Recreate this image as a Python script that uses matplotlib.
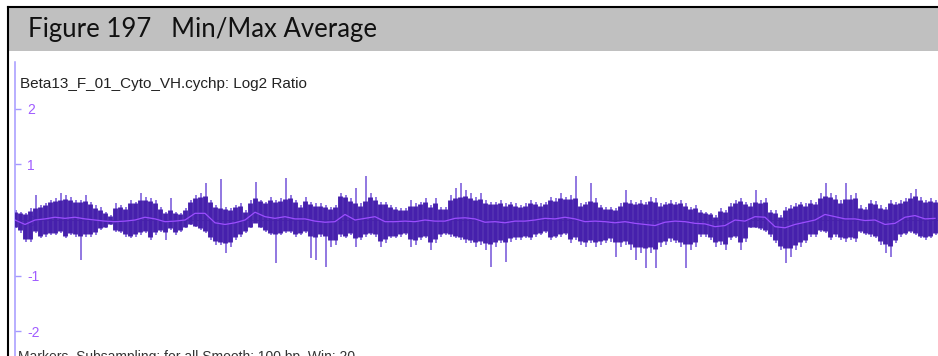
import numpy as np
import matplotlib
matplotlib.use("Agg")
import matplotlib.pyplot as plt
from matplotlib.patches import Rectangle
from matplotlib.lines import Line2D

plt.rcParams['axes.unicode_minus'] = False

# Log2 ratio summaries, one column every 5 bins (values in hundredths)
core_hi = [14, 12, 10, 16, 22, 24, 27, 32, 34, 36, 38, 36, 32, 32, 34, 28, 22, 18, 12, 7,
           22, 24, 20, 30, 30, 36, 36, 34, 30, 20, 12, 18, 12, 10, 18, 32, 40, 42, 44, 32,
           24, 22, 20, 18, 24, 26, 15, 30, 40, 34, 30, 36, 32, 34, 38, 40, 32, 24, 34, 28,
           26, 26, 24, 20, 24, 44, 42, 34, 30, 26, 34, 42, 36, 28, 28, 24, 20, 18, 18, 26,
           26, 28, 32, 24, 30, 20, 20, 36, 40, 42, 44, 40, 36, 38, 30, 28, 28, 30, 26, 28,
           26, 24, 26, 30, 28, 26, 28, 36, 34, 40, 38, 38, 40, 26, 28, 34, 32, 24, 20, 20,
           18, 26, 32, 30, 28, 30, 28, 34, 32, 26, 28, 30, 28, 30, 26, 20, 22, 15, 12, 10,
           6, 16, 15, 26, 30, 34, 28, 26, 32, 30, 32, 14, 12, 6, 18, 22, 26, 28, 26, 30,
           28, 40, 44, 42, 38, 30, 38, 38, 40, 22, 20, 30, 28, 22, 20, 30, 28, 30, 34, 40,
           44, 36, 32, 34, 32]
core_lo = [-12, -18, -34, -34, -20, -28, -26, -24, -24, -20, -28, -24, -26, -28, -26, -26, -22, -15, -12, -7,
           -18, -20, -26, -28, -26, -22, -20, -30, -22, -18, -22, -15, -22, -18, -12, -7, -10, -15, -20, -30,
           -38, -40, -42, -40, -30, -26, -20, -12, -5, -12, -18, -23, -26, -23, -20, -20, -26, -23, -20, -28,
           -30, -26, -28, -36, -36, -26, -28, -23, -32, -30, -26, -23, -26, -38, -34, -28, -28, -26, -23, -34,
           -36, -30, -28, -40, -34, -26, -23, -26, -28, -30, -35, -36, -40, -38, -42, -44, -40, -36, -40, -33,
           -30, -30, -28, -30, -26, -23, -20, -30, -28, -26, -23, -34, -30, -38, -40, -36, -40, -38, -36, -33,
           -40, -40, -38, -44, -48, -48, -50, -48, -52, -40, -38, -33, -36, -40, -44, -44, -40, -26, -26, -30,
           -40, -38, -44, -30, -28, -40, -33, -12, -12, -15, -18, -26, -36, -46, -50, -50, -45, -40, -36, -26,
           -26, -18, -20, -30, -26, -30, -33, -30, -33, -20, -23, -26, -28, -38, -44, -46, -36, -26, -23, -20,
           -23, -28, -30, -28, -23]
ext_hi = [18, 15, 12, 21, 45, 27, 30, 36, 39, 48, 45, 42, 36, 36, 45, 33, 27, 24, 15, 9,
          30, 27, 24, 36, 33, 48, 42, 39, 36, 24, 15, 39, 15, 12, 21, 36, 45, 48, 66, 36,
          27, 73, 24, 21, 27, 30, 18, 36, 69, 36, 33, 42, 36, 39, 75, 45, 36, 27, 42, 33,
          30, 30, 27, 24, 27, 48, 45, 39, 58, 30, 79, 48, 42, 33, 33, 27, 24, 21, 21, 36,
          30, 33, 39, 27, 39, 24, 24, 45, 57, 66, 54, 48, 42, 48, 36, 33, 33, 36, 30, 33,
          30, 27, 30, 36, 33, 30, 33, 42, 39, 48, 42, 45, 79, 30, 33, 67, 39, 27, 24, 24,
          21, 30, 54, 36, 33, 36, 33, 42, 39, 30, 33, 36, 33, 36, 30, 24, 27, 18, 15, 12,
          9, 21, 18, 30, 36, 39, 33, 30, 54, 36, 39, 18, 18, 9, 24, 27, 30, 33, 30, 36,
          33, 48, 67, 48, 45, 36, 67, 45, 48, 27, 24, 36, 34, 27, 24, 36, 33, 36, 39, 48,
          55, 42, 36, 39, 36]
ext_lo = [-15, -24, -39, -39, -24, -33, -30, -27, -27, -24, -33, -27, -30, -72, -30, -30, -27, -18, -15, -9,
          -21, -24, -30, -33, -30, -27, -24, -36, -27, -21, -36, -18, -27, -21, -15, -9, -12, -18, -24, -36,
          -45, -45, -60, -48, -36, -30, -24, -15, -6, -15, -21, -27, -78, -27, -24, -24, -30, -27, -24, -69,
          -72, -30, -84, -48, -45, -30, -33, -27, -48, -36, -30, -27, -30, -48, -42, -33, -33, -30, -27, -48,
          -45, -36, -33, -54, -42, -30, -27, -30, -33, -36, -42, -42, -48, -45, -54, -85, -48, -42, -75, -39,
          -36, -36, -33, -36, -30, -27, -24, -36, -33, -30, -27, -42, -36, -45, -48, -42, -48, -45, -42, -39,
          -67, -48, -45, -54, -72, -60, -87, -60, -87, -48, -45, -39, -42, -48, -87, -54, -48, -30, -30, -36,
          -48, -45, -54, -36, -33, -54, -39, -15, -15, -18, -21, -30, -42, -54, -78, -66, -54, -48, -42, -30,
          -30, -21, -24, -36, -30, -36, -39, -36, -39, -24, -27, -30, -33, -45, -60, -67, -42, -30, -27, -24,
          -27, -33, -36, -33, -27]
# Running average, one value every 10 bins (hundredths)
avg = [0, -8, 0, 2, 5, 3, 5, 2, 0, -2, -3, -2, 0, 5, 2, -3, -2, 0, 12, 12,
       -5, -8, -5, 0, 14, 6, 3, 6, 2, 2, -2, -4, -3, 10, 0, 3, 6, -3, -3, -2,
       -3, 0, -2, -2, 3, 4, 2, -4, -3, -5, -2, -2, 0, 3, 2, 5, 2, -3, -2, -3,
       -5, -3, -6, -8, -10, -4, -2, -3, -6, -7, -12, -10, 0, -2, 6, 5, -12, -14, -8, -4,
       0, 10, 6, 2, 2, -1, 0, -8, -6, 5, 8, 2, 3]

y_ticks = [-2, -1, 0, 1, 2]
track_title = "Beta13_F_01_Cyto_VH.cychp: Log2 Ratio"
figure_title = "Figure 197   Min/Max Average"
footer_text = "Markers  Subsampling: for all Smooth: 100 bp  Win: 20"

W, H = 938, 356
fig = plt.figure(figsize=(W / 100, H / 100), dpi=100)
fig.patch.set_facecolor("white")

def fx(px):
    return px / W

def fy(py):
    return 1 - py / H

# Figure caption bar and frame
fig.add_artist(Rectangle((fx(9), fy(51)), fx(W - 9), fy(8) - fy(51),
                         transform=fig.transFigure, facecolor="#c0c0c0",
                         edgecolor="none", zorder=0))
fig.add_artist(Line2D([fx(8), 1], [fy(7), fy(7)], transform=fig.transFigure,
                      color="black", lw=1.5))
fig.add_artist(Line2D([fx(8), fx(8)], [fy(7), 0], transform=fig.transFigure,
                      color="black", lw=1.5))
fig.text(fx(28), fy(29), figure_title, fontsize=18.5, family="Lato",
         color="#111111", va="center", ha="left")

# Track area
ax = fig.add_axes([fx(15), 0, 1 - fx(15), fy(62)])
ax.set_facecolor("none")
ax.set_axisbelow(True)
n = min(len(core_hi), len(core_lo), len(ext_hi), len(ext_lo))
pos = np.arange(n) * 5
ax.set_xlim(0, 923)
ax.set_ylim(-2.446, 2.842)

ch = np.array(core_hi[:n]) / 100
cl = np.array(core_lo[:n]) / 100
eh = np.array(ext_hi[:n]) / 100
el = np.array(ext_lo[:n]) / 100
av = np.array(avg) / 100
apos = np.arange(len(av)) * 10

ax.axhline(0, color="#707070", lw=0.8, zorder=1)
ax.vlines(pos + 1.2, el, eh, color="#7352d8", lw=1.1, zorder=2)
ax.vlines(pos, cl, ch, color="#4620ac", lw=3.5, zorder=3)
ax.plot(apos, av, color="#9b4dff", lw=0.9, zorder=4)

for s in ("top", "right", "bottom"):
    ax.spines[s].set_visible(False)
ax.spines["left"].set_color("#a499ff")
ax.spines["left"].set_linewidth(1.1)
ax.set_xticks([])
ax.set_yticks(y_ticks)
ax.set_yticklabels([str(t) for t in y_ticks])
ax.tick_params(axis="y", direction="in", length=4.5, width=1.0,
               color="#a499ff", labelcolor="#a05cff", labelsize=10, pad=-9)
for lbl in ax.get_yticklabels():
    lbl.set_horizontalalignment("left")
    lbl.set_family("Liberation Sans")

fig.text(fx(20), fy(84), track_title, fontsize=11, family="Liberation Sans",
         color="#222222", va="center", ha="left")
fig.text(fx(18), fy(350), footer_text, fontsize=10, family="Liberation Sans",
         color="#333333", va="top", ha="left")

fig.savefig("out.png", dpi=100)
